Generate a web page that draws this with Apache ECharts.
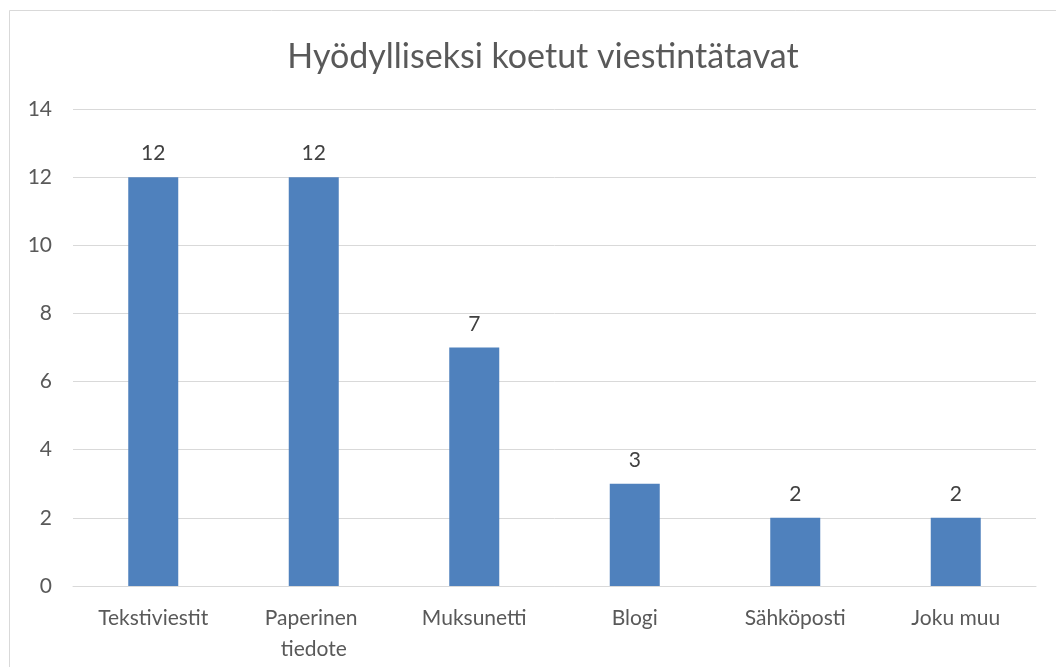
<!DOCTYPE html>
<html>
<head>
<meta charset="utf-8">
<script src="https://cdn.jsdelivr.net/npm/echarts@6/dist/echarts.min.js"></script>
<style>html,body{margin:0;padding:0;background:#fff;}#c{width:1056px;height:667px;}</style>
</head>
<body>
<div id="c"></div>
<script>
const titleText = "Hyödylliseksi koetut viestintätavat";
const categories = ["Tekstiviestit", "Paperinen tiedote", "Muksunetti", "Blogi", "Sähköposti", "Joku muu"];
const values = [12, 12, 7, 3, 2, 2];
const yTicks = {min: 0, max: 14, interval: 2};

const FONT = "Lato";
const chart = echarts.init(document.getElementById('c'));
chart.setOption({
  backgroundColor: '#ffffff',
  animation: false,
  graphic: [{
    type: 'rect',
    shape: {x: 9.5, y: 10.5, width: 1100, height: 700},
    style: {fill: 'none', stroke: '#d9d9d9', lineWidth: 1},
    silent: true
  }],
  title: {
    text: titleText,
    left: 538, textAlign: 'center', top: 35,
    textStyle: {fontFamily: FONT, fontSize: 34, fontWeight: 'normal', color: '#595959'}
  },
  grid: {left: 73, right: 20, top: 109, bottom: 81, containLabel: false},
  xAxis: {
    type: 'category',
    data: categories,
    axisLine: {show: true, lineStyle: {color: '#d9d9d9', width: 1}},
    axisTick: {show: false},
    axisLabel: {
      fontFamily: FONT, fontSize: 21, color: '#595959', margin: 17,
      width: 130, overflow: 'break', lineHeight: 31, interval: 0
    }
  },
  yAxis: {
    type: 'value',
    min: yTicks.min, max: yTicks.max, interval: yTicks.interval,
    axisLine: {show: false},
    axisTick: {show: false},
    splitLine: {lineStyle: {color: '#d9d9d9', width: 1}},
    axisLabel: {fontFamily: FONT, fontSize: 21, color: '#595959', margin: 21}
  },
  series: [{
    type: 'bar',
    data: values,
    barWidth: 50,
    itemStyle: {color: '#4f81bd'},
    label: {
      show: true, position: 'top', distance: 13,
      fontFamily: FONT, fontSize: 21, color: '#404040'
    }
  }]
});
</script>
</body>
</html>
